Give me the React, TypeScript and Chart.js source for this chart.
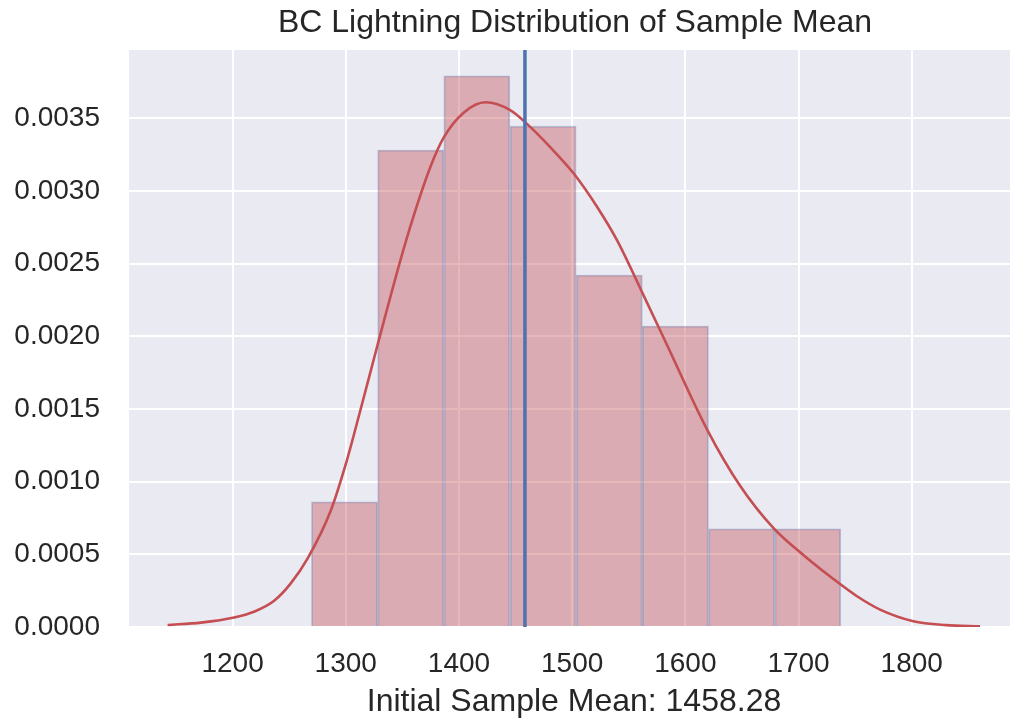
import React, { useEffect, useRef } from "react";
import { Chart, registerables } from "chart.js";

Chart.register(...registerables);

const chartTitle = "BC Lightning Distribution of Sample Mean";
const xAxisTitle = "Initial Sample Mean: 1458.28";

// histogram (density) bins
const binCenters = [1298.9, 1357.4, 1415.8, 1474.3, 1532.8, 1591.2, 1649.7, 1708.2];
const binDensity = [0.000862, 0.003282, 0.003793, 0.003447, 0.002422, 0.002071, 0.000676, 0.000676];

// KDE curve
const kdeX = [1142.6, 1172, 1201.4, 1220, 1236.7, 1251.4, 1266.2, 1286.7, 1300, 1313.2, 1329.4, 1348.5, 1358.8, 1375, 1386.7, 1404.4, 1423.5, 1445.6, 1460.3, 1480.8, 1501.4, 1522.1, 1539.7, 1563.2, 1583.8, 1619.1, 1648.5, 1677.9, 1705, 1730.8, 1752, 1772, 1801.4, 1830, 1860.3];
const kdeY = [0.000014, 0.00003, 0.000065, 0.000108, 0.00018, 0.0003, 0.00047, 0.0008, 0.00112, 0.0015, 0.00198, 0.00253, 0.0028, 0.00317, 0.00337, 0.00354, 0.00361, 0.003555, 0.00346, 0.0033, 0.00312, 0.00289, 0.00266, 0.00228, 0.00194, 0.00136, 0.00097, 0.00068, 0.00049, 0.00033, 0.00021, 0.00012, 0.00004, 0.000013, 0.000004];

const sampleMean = 1458.28;

const xTicks = [1200, 1300, 1400, 1500, 1600, 1700, 1800];
const yTicks = [0, 0.0005, 0.001, 0.0015, 0.002, 0.0025, 0.003, 0.0035];
const xRange = [1108.5, 1886.8];
const yRange = [0, 0.00397];

const FONT = "'Liberation Sans', Arial, Helvetica, sans-serif";
const TEXT = "#262626";

const bgPlugin = {
  id: "plotBg",
  beforeDraw(chart: any) {
    const { ctx, chartArea } = chart;
    if (!chartArea) return;
    ctx.save();
    ctx.fillStyle = "#EAEAF2";
    ctx.fillRect(chartArea.left, chartArea.top, chartArea.right - chartArea.left, chartArea.bottom - chartArea.top);
    ctx.restore();
  },
};

const textPlugin = {
  id: "texts",
  afterDraw(chart: any) {
    const { ctx } = chart;
    ctx.save();
    ctx.fillStyle = TEXT;
    ctx.textAlign = "center";
    ctx.textBaseline = "middle";
    ctx.font = `32px ${FONT}`;
    ctx.fillText(chartTitle, 575, 23);
    ctx.fillText(xAxisTitle, 574, 702);
    ctx.restore();
  },
};

export default function App() {
  const ref = useRef<HTMLCanvasElement | null>(null);
  useEffect(() => {
    if (!ref.current) return;
    const chart = new Chart(ref.current, {
      type: "bar",
      data: {
        datasets: [
          {
            type: "line",
            data: [
              { x: sampleMean, y: yRange[0] },
              { x: sampleMean, y: yRange[1] },
            ],
            borderColor: "#4C72B0",
            borderWidth: 3.5,
            pointRadius: 0,
            order: 1,
          } as any,
          {
            type: "line",
            data: kdeX.map((x, i) => ({ x, y: kdeY[i] })),
            borderColor: "#C44E52",
            borderWidth: 2.6,
            pointRadius: 0,
            cubicInterpolationMode: "monotone",
            order: 2,
          } as any,
          {
            type: "bar",
            data: binCenters.map((x, i) => ({ x, y: binDensity[i] })),
            backgroundColor: "rgba(196,78,82,0.4)",
            borderColor: "rgba(76,114,176,0.38)",
            borderWidth: 1.2,
            barPercentage: 1,
            categoryPercentage: 1,
            order: 3,
          } as any,
        ],
      },
      options: {
        responsive: false,
        animation: false,
        devicePixelRatio: 1,
        layout: { padding: { top: 50, left: 0, right: 0, bottom: 0 } },
        plugins: {
          legend: { display: false },
          tooltip: { enabled: false },
          title: { display: false },
        },
        scales: {
          x: {
            type: "linear",
            min: xRange[0],
            max: xRange[1],
            offset: false,
            afterBuildTicks: (s: any) => {
              s.ticks = xTicks.map((v) => ({ value: v }));
            },
            afterFit: (s: any) => {
              s.height = 96;
            },
            ticks: {
              color: TEXT,
              font: { family: FONT, size: 28 },
              padding: 20,
              maxRotation: 0,
              autoSkip: false,
              callback: (v: any) => String(v),
            },
            grid: { color: "#FFFFFF", lineWidth: 2, drawTicks: false, offset: false },
            border: { display: false },
          },
          y: {
            type: "linear",
            min: yRange[0],
            max: yRange[1],
            afterBuildTicks: (s: any) => {
              s.ticks = yTicks.map((v) => ({ value: v }));
            },
            afterFit: (s: any) => {
              s.width = 129;
            },
            ticks: {
              color: TEXT,
              font: { family: FONT, size: 28 },
              padding: 29,
              autoSkip: false,
              callback: (v: any) => Number(v).toFixed(4),
            },
            grid: { color: "#FFFFFF", lineWidth: 2, drawTicks: false },
            border: { display: false },
          },
        },
      },
      plugins: [bgPlugin, textPlugin],
    } as any);
    return () => chart.destroy();
  }, []);
  return (
    <div style={{ position: "absolute", left: 0, top: 0, width: 1010, height: 723, background: "#fff" }}>
      <canvas ref={ref} width={1010} height={723} style={{ width: 1010, height: 723, display: "block" }} />
    </div>
  );
}
